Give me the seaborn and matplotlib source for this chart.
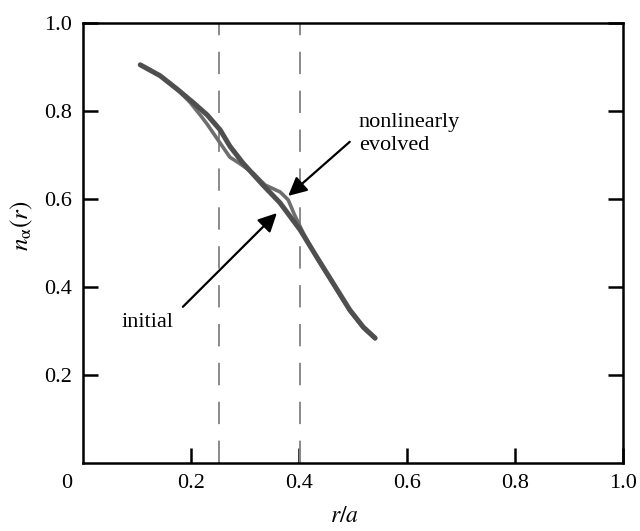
import numpy as np
import pandas as pd
import matplotlib
matplotlib.use("Agg")
import matplotlib.pyplot as plt
import seaborn as sns

# ---- data ----
r_initial = [0.106, 0.143, 0.176, 0.207, 0.230, 0.254, 0.272, 0.296, 0.333,
             0.365, 0.402, 0.433, 0.463, 0.494, 0.519, 0.541]
n_initial = [0.905, 0.880, 0.848, 0.816, 0.791, 0.757, 0.720, 0.682, 0.632,
             0.591, 0.530, 0.468, 0.409, 0.348, 0.309, 0.284]

r_evolved = [0.106, 0.143, 0.176, 0.198, 0.217, 0.230, 0.254, 0.272, 0.291,
             0.315, 0.337, 0.365, 0.380, 0.391, 0.407, 0.433, 0.463, 0.494,
             0.519, 0.541]
n_evolved = [0.905, 0.880, 0.848, 0.820, 0.791, 0.770, 0.727, 0.695, 0.680,
             0.659, 0.632, 0.616, 0.598, 0.566, 0.525, 0.466, 0.407, 0.346,
             0.307, 0.282]

dashed_r = [0.252, 0.402]

xtick_vals = [0.2, 0.4, 0.6, 0.8, 1.0]
xtick_labels = ["0.2", "0.4", "0.6", "0.8", "1.0"]
ytick_vals = [0.2, 0.4, 0.6, 0.8, 1.0]
ytick_labels = ["0.2", "0.4", "0.6", "0.8", "1.0"]

df_init = pd.DataFrame({"r": r_initial, "n": n_initial})
df_evol = pd.DataFrame({"r": r_evolved, "n": n_evolved})

sns.set_theme(style="white")
plt.rcParams["font.family"] = ["Liberation Serif", "DejaVu Serif"]
plt.rcParams["mathtext.fontset"] = "stix"
plt.rcParams["text.color"] = "black"
plt.rcParams["axes.labelcolor"] = "black"
plt.rcParams["xtick.color"] = "black"
plt.rcParams["ytick.color"] = "black"

fig = plt.figure(figsize=(6.4, 5.31), dpi=100)
ax = fig.add_axes([83 / 640, 1 - 463 / 531, 540 / 640, 440 / 531])

for xv in dashed_r:
    ax.axvline(xv, color="#8a8a8a", lw=1.4, dashes=(11.5, 8.5), zorder=1)

sns.lineplot(data=df_init, x="r", y="n", sort=False, ax=ax,
             color="#4f4f4f", lw=3.6, zorder=3, solid_capstyle="round")
sns.lineplot(data=df_evol, x="r", y="n", sort=False, ax=ax,
             color="#6e6e6e", lw=2.6, zorder=2, solid_capstyle="round")

ax.set_xlim(0, 1)
ax.set_ylim(0, 1)
ax.set_xticks(xtick_vals)
ax.set_xticklabels(xtick_labels)
ax.set_yticks(ytick_vals)
ax.set_yticklabels(ytick_labels)

for s in ax.spines.values():
    s.set_visible(True)
    s.set_color("black")
    s.set_linewidth(1.8)

ax.tick_params(axis="both", which="major", direction="in", length=11,
               width=1.8, color="black", labelcolor="black", labelsize=16,
               pad=8, bottom=True, left=True, right=True, top=False)

ax.annotate("0", xy=(0, 0), xycoords="axes fraction", xytext=(-12, -14.5),
            textcoords="offset points", ha="center", va="center", fontsize=16,
            color="black")

ax.set_xlabel(r"$r/a$", fontsize=17, color="black")
ax.set_ylabel(r"$n_{\mathrm{\alpha}}(r)$", fontsize=18, color="black")
ax.xaxis.set_label_coords(0.485, -0.098)
ax.yaxis.set_label_coords(-0.088, 0.54)

arrow = dict(arrowstyle="-|>", mutation_scale=28, lw=1.6, color="black",
             shrinkA=0, shrinkB=0)
ax.annotate("", xy=(0.380, 0.607), xytext=(0.494, 0.730), arrowprops=arrow)
ax.annotate("", xy=(0.359, 0.568), xytext=(0.185, 0.355), arrowprops=arrow)

ax.text(0.511, 0.748, "nonlinearly\nevolved", fontsize=16, ha="left",
        va="center", linespacing=1.25, color="black")
ax.text(0.072, 0.32, "initial", fontsize=16, ha="left", va="center",
        color="black")

fig.savefig("out.png", dpi=100)
